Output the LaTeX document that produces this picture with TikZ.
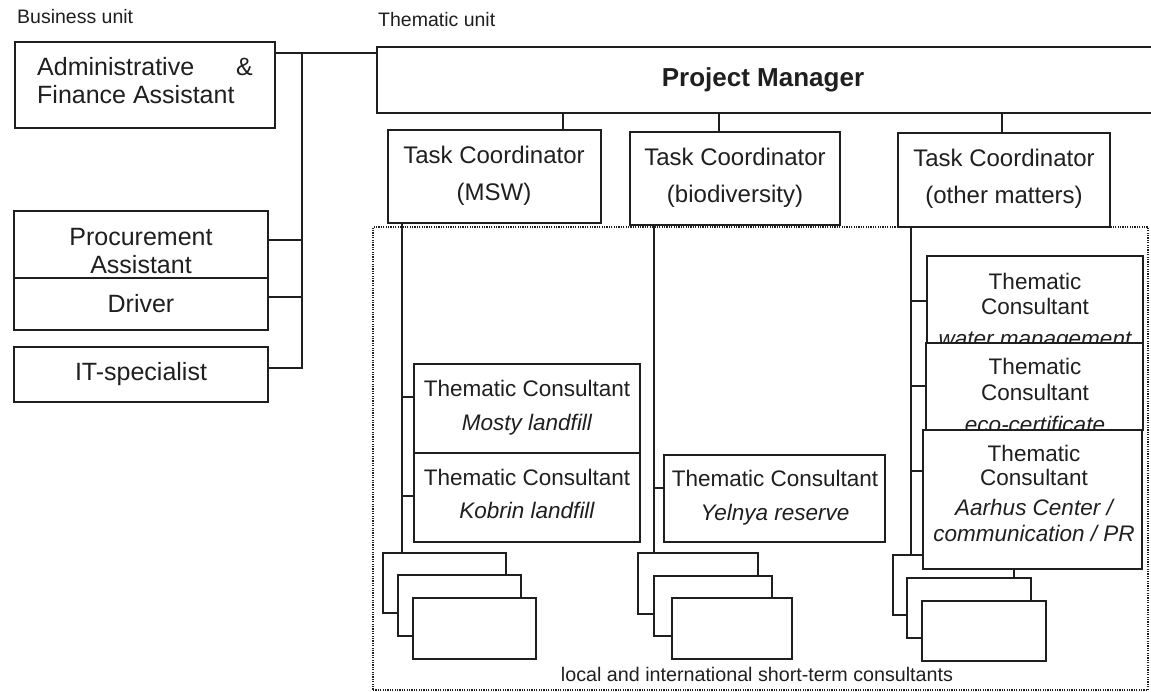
\documentclass[tikz,border=0pt]{standalone}
\usepackage{fontspec}
\setmainfont{Liberation Sans}
\usetikzlibrary{fit,calc}
\definecolor{ink}{gray}{0.12}
\tikzset{
  box/.style={draw=ink, line width=1.5pt, fill=white, inner sep=0pt},
  dotbox/.style={draw=ink, line width=1.2pt, dash pattern=on 1.2pt off 1.2pt, inner sep=0pt},
  conn/.style={draw=ink, line width=1.3pt},
  lbl/.style={anchor=base, inner sep=0pt, text=ink},
  smallt/.style={lbl, font=\fontsize{19.5}{23}\selectfont},
  bizt/.style={lbl, font=\fontsize{25}{30}\selectfont},
  pmt/.style={lbl, font=\fontsize{26}{31}\selectfont\bfseries},
  tct/.style={lbl, font=\fontsize{24}{29}\selectfont},
  tht/.style={lbl, font=\fontsize{22.5}{27}\selectfont},
  thi/.style={lbl, font=\fontsize{22.5}{27}\selectfont\itshape},
  bott/.style={lbl, font=\fontsize{19.7}{23}\selectfont},
}
\begin{document}
\begin{tikzpicture}[x=1pt,y=-1pt]
\useasboundingbox (0,0) rectangle (1151,692);
\clip (0,0) rectangle (1151,692);
\fill[white] (0,0) rectangle (1151,692);

% headings
\node[smallt, anchor=base west] (bu) at (17,24) {Business unit};
\node[smallt, anchor=base west] (tu) at (378,27) {Thematic unit};

% business unit
\node[box, fit={(15,42) (275,128)}] (admin) {};
\node[bizt, anchor=base west] (adA) at (37,76) {Administrative};
\node[bizt, anchor=base east] (adB) at (253,76) {\&};
\node[bizt, anchor=base west] (adC) at (37,104) {Finance Assistant};
\node[box, fit={(14,211) (268,278)}] (proc) {};
\node[bizt] (prA) at (141,246) {Procurement};
\node[bizt] (prB) at (141,274) {Assistant};
\node[box, fit={(14,278) (268,330)}] (drv) {};
\node[bizt] (drA) at (141,313) {Driver};
\node[box, fit={(14,347) (268,402)}] (its) {};
\node[bizt] (itA) at (141,381) {IT-specialist};

% project manager
\node[box, fit={(377,47) (1175,113)}] (pm) {};
\node[pmt] (pmA) at (763,87) {Project Manager};

% business connectors
\coordinate (busT) at (302,53);
\coordinate (busB) at (302,368);
\draw[conn] (admin.east |- busT) -- (pm.west |- busT);
\draw[conn] (busT) -- (busB) -- (its.east |- busB);
\draw[conn] (busT |- 0,240) -- (proc.east |- 0,240);
\draw[conn] (busT |- 0,297) -- (drv.east |- 0,297);

% dotted area of consultants
\node[dotbox, fit={(373,227) (1148,690)}] (stc) {};
\node[bott] (stcA) at (757,681) {local and international short-term consultants};

% task coordinators
\node[box, fit={(388,130) (601,223)}] (tcm) {};
\node[tct] (tcmA) at (494,164) {Task Coordinator};
\node[tct] (tcmB) at (494,201) {(MSW)};
\node[box, fit={(630,132) (840,225)}] (tcb) {};
\node[tct] (tcbA) at (735,166) {Task Coordinator};
\node[tct] (tcbB) at (735,203) {(biodiversity)};
\node[box, fit={(898,133) (1110,227)}] (tco) {};
\node[tct] (tcoA) at (1004,167) {Task Coordinator};
\node[tct] (tcoB) at (1004,204) {(other matters)};
\draw[conn] (pm.south -| 563,0) -- (tcm.north -| 563,0);
\draw[conn] (pm.south -| 719,0) -- (tcb.north -| 719,0);
\draw[conn] (pm.south -| 1002,0) -- (tco.north -| 1002,0);

% MSW column
\node[box, fit={(414,364) (640,453)}] (mos) {};
\node[tht] (mosA) at (527,396) {Thematic Consultant};
\node[thi] (mosB) at (527,430) {Mosty landfill};
\node[box, fit={(414,453) (640,542)}] (kob) {};
\node[tht] (kobA) at (527,485) {Thematic Consultant};
\node[thi] (kobB) at (527,518) {Kobrin landfill};
\node[box, fit={(383,553) (506,613)}] (ms1) {};
\node[box, fit={(398,575) (521,636)}] (ms2) {};
\node[box, fit={(413,598) (536,659)}] (ms3) {};
\coordinate (vm) at (402,0);
\draw[conn] (tcm.south -| vm) -- (ms1.north -| vm);
\draw[conn] (vm |- 0,397) -- (mos.west |- 0,397);
\draw[conn] (vm |- 0,496) -- (kob.west |- 0,496);

% biodiversity column
\node[box, fit={(664,455) (885,542)}] (yel) {};
\node[tht] (yelA) at (775,486) {Thematic Consultant};
\node[thi] (yelB) at (775,520) {Yelnya reserve};
\node[box, fit={(638,553) (758,614)}] (bs1) {};
\node[box, fit={(654,576) (772,636)}] (bs2) {};
\node[box, fit={(672,598) (792,659)}] (bs3) {};
\coordinate (vb) at (654,0);
\draw[conn] (tcb.south -| vb) -- (bs1.north -| vb);
\draw[conn] (vb |- 0,488) -- (yel.west |- 0,488);

% other matters column
\node[box, fit={(927,256) (1143,343)}] (wat) {};
\node[tht] (watA) at (1035,290) {Thematic};
\node[tht] (watB) at (1035,315) {Consultant};
\node[thi] (watC) at (1035,347) {water management};
\node[box, fit={(926,343) (1143,430)}] (eco) {};
\node[tht] (ecoA) at (1035,375) {Thematic};
\node[tht] (ecoB) at (1035,400) {Consultant};
\node[thi] (ecoC) at (1035,432) {eco-certificate};
\node[box, fit={(893,555) (1014,615)}] (os1) {};
\node[box, fit={(923,430) (1142,569)}] (aar) {};
\node[tht] (aarA) at (1034,461) {Thematic};
\node[tht] (aarB) at (1034,485) {Consultant};
\node[thi] (aarC) at (1034,515) {Aarhus Center /};
\node[thi] (aarD) at (1034,541) {communication / PR};
\node[box, fit={(907,578) (1031,638)}] (os2) {};
\node[box, fit={(922,601) (1046,661)}] (os3) {};
\coordinate (vo) at (911,0);
\draw[conn] (tco.south -| vo) -- (os1.north -| vo);
\draw[conn] (vo |- 0,301) -- (wat.west |- 0,301);
\draw[conn] (vo |- 0,386) -- (eco.west |- 0,386);
\draw[conn] (vo |- 0,471) -- (aar.west |- 0,471);
\end{tikzpicture}
\end{document}
